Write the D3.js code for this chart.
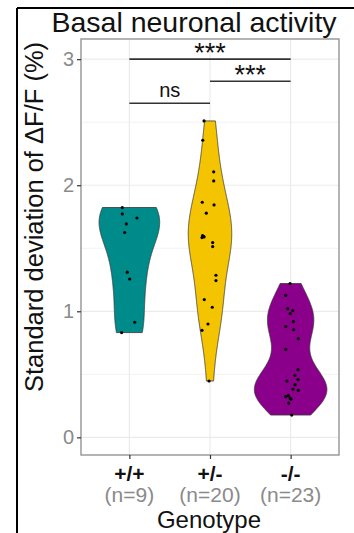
<!DOCTYPE html>
<html>
<head>
<meta charset="utf-8">
<script src="https://cdn.jsdelivr.net/npm/d3@7/dist/d3.min.js"></script>
<style>
  body { margin: 0; background: #fff; }
  text { font-family: "Liberation Sans", Arial, sans-serif; }
</style>
</head>
<body>
<svg id="chart" width="354" height="533"></svg>
<script>
// categories and labels
const genotypes = ["+/+", "+/-", "-/-"];
const groupSizes = ["(n=9)", "(n=20)", "(n=23)"];
const fills = ["#008b8b", "#f5c400", "#8b008b"];

// per-animal SD of dF/F (%)
const wildType = [1.823, 1.772, 1.740, 1.693, 1.625, 1.310, 1.256, 0.913, 0.831];
const heterozygous = [2.510, 2.357, 2.106, 2.034, 1.865, 1.844, 1.778, 1.600, 1.590, 1.585, 1.595,
                      1.545, 1.513, 1.286, 1.244, 1.093, 1.032, 0.899, 0.849, 0.447];
const knockout = [1.220, 1.127, 1.021, 1.006, 0.982, 0.918, 0.879, 0.855, 0.783, 0.698, 0.537, 0.490,
                  0.458, 0.447, 0.418, 0.383, 0.373, 0.331, 0.323, 0.312, 0.302, 0.272, 0.177];

// horizontal jitter of each point, in category units
const wildJitter = [-0.088, -0.088, 0.094, -0.038, -0.058, -0.026, 0.004, 0.066, -0.096];
const hetJitter = [-0.074, -0.090, 0.046, 0.046, -0.096, 0.050, -0.046, -0.093, -0.074, -0.099, -0.080,
                   0.033, 0.033, 0.074, 0.074, -0.071, 0.028, -0.025, -0.099, -0.012];
const koJitter = [-0.007, -0.061, -0.036, 0.026, -0.004, 0.033, -0.061, 0.038, 0.095, -0.061, 0.092, 0.055,
                  0.092, -0.045, 0.055, 0.030, 0.095, -0.029, -0.061, -0.007, 0.005, -0.024, 0.014];

const yTicks = [0, 1, 2, 3];
const yMinor = [0.5, 1.5, 2.5];

// significance brackets
const sigFrom = [0, 1, 0];
const sigTo = [2, 2, 1];
const sigLevel = [3.0, 2.825, 2.65];
const sigLabel = ["***", "***", "ns"];

const groups = [wildType, heterozygous, knockout];
const jitters = [wildJitter, hetJitter, koJitter];

const panel = { left: 81, right: 339, top: 39, bottom: 455 };

const svg = d3.select("#chart");

const x = d3.scalePoint().domain(genotypes).range([panel.left, panel.right]).padding(0.6);
const step = x.step();
const y = d3.scaleLinear().domain([-0.14, 3.16]).range([panel.bottom, panel.top]);

// outer frame (figure crop edge)
svg.append("line").attr("x1", 17).attr("x2", 354).attr("y1", 8).attr("y2", 8)
   .attr("stroke", "#000").attr("stroke-width", 2);
svg.append("line").attr("x1", 17).attr("x2", 17).attr("y1", 8).attr("y2", 533)
   .attr("stroke", "#000").attr("stroke-width", 2);

// grid
const grid = svg.append("g");
grid.selectAll(".minor").data(yMinor).enter().append("line")
    .attr("x1", panel.left).attr("x2", panel.right)
    .attr("y1", d => y(d)).attr("y2", d => y(d))
    .attr("stroke", "#f2f2f2").attr("stroke-width", 1);
grid.selectAll(".major").data(yTicks).enter().append("line")
    .attr("x1", panel.left).attr("x2", panel.right)
    .attr("y1", d => y(d)).attr("y2", d => y(d))
    .attr("stroke", "#ebebeb").attr("stroke-width", 1.2);
grid.selectAll(".vmajor").data(genotypes).enter().append("line")
    .attr("x1", d => x(d)).attr("x2", d => x(d))
    .attr("y1", panel.top).attr("y2", panel.bottom)
    .attr("stroke", "#ebebeb").attr("stroke-width", 1.2);

// kernel density, gaussian with nrd0 bandwidth, trimmed to the data range
function bandwidth(v) {
  const s = v.slice().sort(d3.ascending);
  const iqr = d3.quantile(s, 0.75) - d3.quantile(s, 0.25);
  const sd = d3.deviation(s);
  const lo = Math.min(sd, iqr / 1.34) || sd;
  return 0.9 * lo * Math.pow(s.length, -0.2);
}
function density(v) {
  const bw = bandwidth(v);
  const [mn, mx] = d3.extent(v);
  return d3.range(512).map(i => {
    const t = mn + (mx - mn) * i / 511;
    const d = d3.mean(v, p => Math.exp(-0.5 * ((t - p) / bw) ** 2)) / (bw * Math.sqrt(2 * Math.PI));
    return [t, d];
  });
}
const dens = groups.map(density);
const maxD = d3.max(dens, g => d3.max(g, d => d[1]));
const halfW = d3.scaleLinear().domain([0, maxD]).range([0, 0.45 * step]);

// violins
dens.forEach((g, i) => {
  const cx = x(genotypes[i]);
  const area = d3.area()
      .y(d => y(d[0]))
      .x0(d => cx - halfW(d[1]))
      .x1(d => cx + halfW(d[1]));
  svg.append("path").datum(g)
     .attr("d", area)
     .attr("fill", fills[i])
     .attr("stroke", "#333").attr("stroke-width", 0.8);
});

// points
groups.forEach((g, i) => {
  const cx = x(genotypes[i]);
  svg.append("g").selectAll("circle").data(g).enter().append("circle")
     .attr("cx", (d, j) => cx + jitters[i][j] * step)
     .attr("cy", d => y(d))
     .attr("r", 1.6)
     .attr("fill", "#000");
});

// panel border
svg.append("rect")
   .attr("x", panel.left).attr("y", panel.top)
   .attr("width", panel.right - panel.left).attr("height", panel.bottom - panel.top)
   .attr("fill", "none").attr("stroke", "#8c8c8c").attr("stroke-width", 1.3);

// y axis
const yAxis = svg.append("g")
   .attr("transform", "translate(" + panel.left + ",0)")
   .call(d3.axisLeft(y).tickValues(yTicks).tickFormat(d3.format("d")).tickSize(4).tickPadding(3));
yAxis.select(".domain").remove();
yAxis.selectAll("line").attr("stroke", "#333").attr("stroke-width", 1.2);
yAxis.selectAll("text").attr("fill", "#8a8a8a").style("font-size", "20px")
     .style("font-family", "'Liberation Sans', Arial, sans-serif");

// x axis
const xAxis = svg.append("g")
   .attr("transform", "translate(0," + panel.bottom + ")")
   .call(d3.axisBottom(x).tickSize(4).tickFormat(""));
xAxis.select(".domain").remove();
xAxis.selectAll("line").attr("stroke", "#333").attr("stroke-width", 1.2);

svg.append("g").selectAll("text").data(genotypes).enter().append("text")
   .attr("x", d => x(d)).attr("y", 481)
   .attr("text-anchor", "middle")
   .style("font-size", "21px").style("font-weight", "bold")
   .attr("fill", "#111")
   .text(d => d);
svg.append("g").selectAll("text").data(groupSizes).enter().append("text")
   .attr("x", (d, i) => x(genotypes[i])).attr("y", 502)
   .attr("text-anchor", "middle")
   .style("font-size", "21px")
   .attr("fill", "#8a8a8a")
   .text(d => d);

// significance brackets
sigLabel.forEach((lab, i) => {
  const x1 = x(genotypes[sigFrom[i]]), x2 = x(genotypes[sigTo[i]]);
  svg.append("line")
     .attr("x1", x1).attr("x2", x2)
     .attr("y1", y(sigLevel[i])).attr("y2", y(sigLevel[i]))
     .attr("stroke", "#333").attr("stroke-width", 1.6);
  svg.append("text")
     .attr("x", (x1 + x2) / 2).attr("y", y(sigLevel[i]) - (lab === "ns" ? 6 : -3))
     .attr("text-anchor", "middle")
     .style("font-size", lab === "ns" ? "20px" : "27px")
     .attr("fill", "#111")
     .text(lab);
});

// titles
svg.append("text")
   .attr("x", 194).attr("y", 32)
   .attr("text-anchor", "middle")
   .style("font-size", "28.5px")
   .attr("fill", "#111")
   .text("Basal neuronal activity");

svg.append("text")
   .attr("transform", "translate(43," + 217 + ") rotate(-90)")
   .attr("text-anchor", "middle")
   .style("font-size", "25.5px")
   .attr("fill", "#111")
   .text("Standard deviation of \u0394F/F (%)");

svg.append("text")
   .attr("x", 209).attr("y", 528)
   .attr("text-anchor", "middle")
   .style("font-size", "24px")
   .attr("fill", "#111")
   .text("Genotype");
</script>
</body>
</html>
